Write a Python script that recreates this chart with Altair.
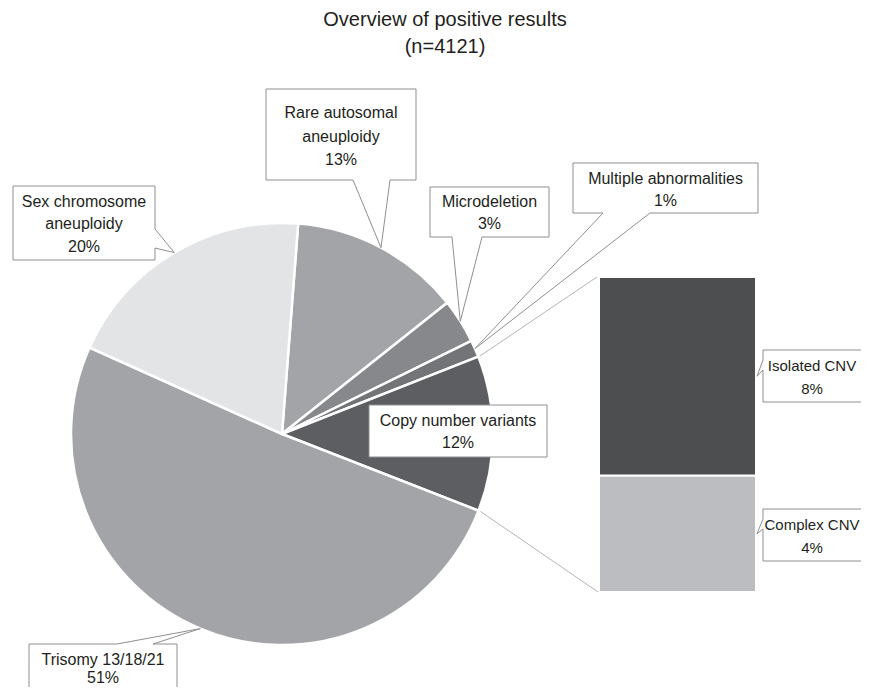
import math
import altair as alt
import pandas as pd

# ---------------- data ----------------
title_lines = ["Overview of positive results", "(n=4121)"]

names = ["Rare autosomal aneuploidy", "Microdeletion", "Multiple abnormalities",
         "Copy number variants", "Trisomy 13/18/21", "Sex chromosome aneuploidy"]
shares = [13.1, 3.4, 1.3, 11.9, 50.8, 19.5]
pct_labels = ["13%", "3%", "1%", "12%", "51%", "20%"]
slice_colors = ["#a3a4a8", "#87888c", "#737477", "#5d5e61", "#a3a4a8", "#e3e4e6"]

cnv_names = ["Complex CNV", "Isolated CNV"]
cnv_shares = [4.4, 7.5]
cnv_labels = ["4%", "8%"]
cnv_colors = ["#bcbdc0", "#4d4e50"]

label_lines = {
    "Rare autosomal aneuploidy": ["Rare autosomal", "aneuploidy"],
    "Sex chromosome aneuploidy": ["Sex chromosome", "aneuploidy"],
}

# ---------------- layout (image pixel coordinates) ----------------
W, H, M = 853, 679, 8
CX, CY, R = 282, 434, 211
A0 = math.radians(4.4)
BAR_X0, BAR_X1, BAR_TOP, BAR_BOT = 599, 756, 277, 592
BOX_STROKE = "#8f8f8f"
TEXT_COLOR = "#231f20"
FONT = "Liberation Sans"

# box (x0, y0, x1, y1), text centre x (None = box centre), line centres y,
# pointer base points, font size
callouts = {
    "Rare autosomal aneuploidy": ((266, 89, 416, 180), None, [113, 137, 160], [(353, 180), (390, 180)], 16),
    "Microdeletion": ((430, 187, 549, 237), None, [202, 224], [(452, 237), (482, 237)], 16),
    "Multiple abnormalities": ((573, 163, 758, 213), None, [179, 201], [(603, 213), (650, 213)], 16),
    "Copy number variants": ((369, 405, 547, 457), None, [421, 443], None, 16),
    "Trisomy 13/18/21": ((29, 644, 177, 705), None, [660, 678], [(117, 644), (153, 644)], 16),
    "Sex chromosome aneuploidy": ((13, 186, 155, 260), None, [202, 224, 247], [(155, 229), (155, 248)], 16),
    "Complex CNV": ((763, 509, 873, 561), 812, [525, 548], [(763, 519), (763, 529)], 15),
    "Isolated CNV": ((763, 350, 873, 402), 812, [366, 389], [(763, 360), (763, 370)], 15),
}

xs = alt.Scale(domain=[M, M + W], range=[0, W], nice=False, zero=False)
ys = alt.Scale(domain=[M, M + H], range=[0, H], nice=False, zero=False)

# ---------------- derived geometry ----------------
total = sum(shares)
angles = []
acc = 0.0
for s in shares:
    a_start = A0 + 2 * math.pi * acc / total
    acc += s
    a_end = A0 + 2 * math.pi * acc / total
    angles.append((a_start, a_end))


def on_circle(a, r):
    return CX + r * math.sin(a), CY - r * math.cos(a)


tips = {}
for n, (a1, a2) in zip(names, angles):
    tips[n] = on_circle((a1 + a2) / 2, R)

cnv_total = sum(cnv_shares)
px_per = (BAR_BOT - BAR_TOP) / cnv_total
acc = 0.0
for n, s in zip(cnv_names, cnv_shares):
    y_lo = BAR_BOT - acc * px_per
    acc += s
    y_hi = BAR_BOT - acc * px_per
    tips[n] = (BAR_X1 + 1, (y_lo + y_hi) / 2)

cnv_idx = names.index("Copy number variants")
p_up = on_circle(angles[cnv_idx][0], R + 2)
p_dn = on_circle(angles[cnv_idx][1], R + 2)
connectors = pd.DataFrame({
    "x": [p_up[0], p_dn[0]], "y": [p_up[1], p_dn[1]],
    "x2": [BAR_X0 - 2, BAR_X0 - 1], "y2": [BAR_TOP, BAR_BOT],
})

all_labels = dict(zip(names, pct_labels))
all_labels.update(dict(zip(cnv_names, cnv_labels)))

box_rows, cover_rows, ptr_rows, text_rows = [], [], [], []
for n, (box, tx_c, tys, base, fs) in callouts.items():
    x0, y0, x1, y1 = box
    box_rows.append({"x": x0, "y": y0, "x2": x1, "y2": y1})
    lines = label_lines.get(n, [n]) + [all_labels[n]]
    cx_text = tx_c if tx_c is not None else (x0 + x1) / 2
    for t, ty in zip(lines, tys):
        text_rows.append({"x": cx_text, "y": ty, "t": t, "fs": fs})
    if base:
        tx, ty = tips[n]
        cover_rows.append({"x": base[0][0], "y": base[0][1], "x2": base[1][0], "y2": base[1][1]})
        for bx, by in base:
            ptr_rows.append({"x": bx, "y": by, "x2": tx, "y2": ty})

# ---------------- layers ----------------
pie_df = pd.DataFrame({"name": names, "share": shares, "idx": list(range(len(names))),
                       "col": slice_colors})
pie = alt.Chart(pie_df).mark_arc(outerRadius=R, stroke="white", strokeWidth=2.5).encode(
    theta=alt.Theta("share:Q", stack=True,
                    scale=alt.Scale(domain=[0, total], range=[A0, A0 + 2 * math.pi])),
    color=alt.Color("col:N", scale=None),
    order=alt.Order("idx:Q"),
    x=alt.value(CX - M),
    y=alt.value(CY - M),
)

conn = alt.Chart(connectors).mark_rule(color="#b5b5b5", strokeWidth=1).encode(
    x=alt.X("x:Q", scale=xs, axis=None), y=alt.Y("y:Q", scale=ys, axis=None),
    x2="x2:Q", y2="y2:Q")

bar_df = pd.DataFrame({"name": cnv_names, "share": cnv_shares, "idx": [0, 1], "col": cnv_colors})
bar = alt.Chart(bar_df).transform_stack(
    stack="share", groupby=[], as_=["s0", "s1"], sort=[alt.SortField("idx")]
).mark_rect(stroke="white", strokeWidth=2).encode(
    x=alt.value(BAR_X0 - M), x2=alt.value(BAR_X1 - M),
    y=alt.Y("s0:Q", axis=None,
            scale=alt.Scale(domain=[0, cnv_total], range=[BAR_BOT - M, BAR_TOP - M], nice=False)),
    y2="s1:Q",
    color=alt.Color("col:N", scale=None),
)

boxes = alt.Chart(pd.DataFrame(box_rows)).mark_rect(fill="white", stroke=BOX_STROKE, strokeWidth=1).encode(
    x=alt.X("x:Q", scale=xs, axis=None), y=alt.Y("y:Q", scale=ys, axis=None),
    x2="x2:Q", y2="y2:Q")

covers = alt.Chart(pd.DataFrame(cover_rows)).mark_rule(color="white", strokeWidth=2).encode(
    x=alt.X("x:Q", scale=xs, axis=None), y=alt.Y("y:Q", scale=ys, axis=None),
    x2="x2:Q", y2="y2:Q")

ptrs = alt.Chart(pd.DataFrame(ptr_rows)).mark_rule(color=BOX_STROKE, strokeWidth=1).encode(
    x=alt.X("x:Q", scale=xs, axis=None), y=alt.Y("y:Q", scale=ys, axis=None),
    x2="x2:Q", y2="y2:Q")

texts = alt.Chart(pd.DataFrame(text_rows)).mark_text(
    font=FONT, color=TEXT_COLOR, align="center", baseline="middle").encode(
    x=alt.X("x:Q", scale=xs, axis=None), y=alt.Y("y:Q", scale=ys, axis=None), text="t:N",
    size=alt.Size("fs:Q", scale=None, legend=None))

title_df = pd.DataFrame({"x": [445, 445], "y": [20, 47], "t": title_lines})
title = alt.Chart(title_df).mark_text(
    font=FONT, fontSize=20, color=TEXT_COLOR, align="center", baseline="middle").encode(
    x=alt.X("x:Q", scale=xs, axis=None), y=alt.Y("y:Q", scale=ys, axis=None), text="t:N")

chart = alt.layer(pie, conn, bar, boxes, covers, ptrs, texts, title).resolve_scale(
    y="independent"
).properties(
    width=W, height=H, padding=0, background="white",
    autosize=alt.AutoSizeParams(type="none")
).configure_view(stroke=None)

chart.save("out.html", embed_options={"renderer": "svg", "actions": False})
